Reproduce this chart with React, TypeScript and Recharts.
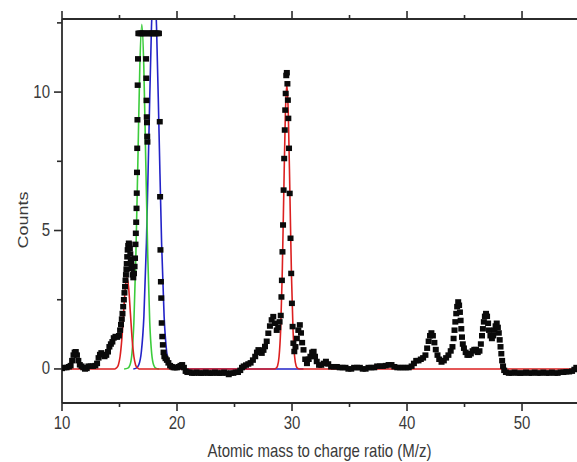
import React from 'react';
import { ComposedChart, Line, Scatter, XAxis, YAxis } from 'recharts';

const xTicks = [10, 15, 20, 25, 30, 35, 40, 45, 50];
const xLabelTicks = [10, 20, 30, 40, 50];
const yTicks = [0, 2.5, 5, 7.5, 10, 12.5];
const yLabelTicks = [0, 5, 10];
const xDomain: [number, number] = [10, 54.78];
const yDomain: [number, number] = [-1.23, 12.64];
const xTitle = 'Atomic mass to charge ratio (M/z)';
const yTitle = 'Counts';

// measured spectrum (black squares)
const measured: [number, number][] = [
  [10.0, 0.02], [10.2, 0.05], [10.4, 0.05], [10.6, 0.08], [10.75, 0.12], [10.88, 0.3], [11.0, 0.5], [11.1, 0.6],
  [11.2, 0.62], [11.3, 0.5], [11.42, 0.3], [11.55, 0.15], [11.7, 0.1], [11.85, 0.05], [12.0, 0.0], [12.15, 0.02],
  [12.3, 0.1], [12.5, 0.1], [12.7, 0.1], [12.9, 0.12], [13.05, 0.2], [13.18, 0.4], [13.3, 0.52], [13.42, 0.58],
  [13.55, 0.52], [13.7, 0.45], [13.85, 0.5], [14.0, 0.62], [14.12, 0.8], [14.25, 0.9], [14.38, 0.98], [14.5, 1.12],
  [14.65, 1.17], [14.8, 1.15], [14.95, 1.2], [15.05, 1.4], [15.13, 1.6], [15.2, 1.8], [15.26, 2.0], [15.32, 2.25],
  [15.38, 2.5], [15.43, 2.75], [15.48, 2.97], [15.52, 3.2], [15.56, 3.4], [15.6, 3.6], [15.63, 3.8], [15.67, 4.05],
  [15.71, 4.3], [15.76, 4.45], [15.81, 4.54], [15.86, 4.5], [15.9, 4.35], [15.94, 4.15], [15.98, 3.96], [16.03, 3.8],
  [16.08, 3.62], [16.14, 3.4], [16.2, 3.3], [16.26, 3.45], [16.31, 3.7], [16.35, 4.0], [16.39, 4.5], [16.42, 4.9],
  [16.45, 5.3], [16.48, 5.8], [16.5, 6.35], [16.52, 7.1], [16.54, 7.97], [16.56, 9.0], [16.58, 10.25], [16.61, 11.2],
  [16.64, 12.12], [16.72, 12.12], [16.8, 12.12], [16.88, 12.12], [16.96, 12.12], [17.04, 12.12], [17.12, 12.12],
  [17.2, 12.12], [17.28, 12.12], [17.31, 11.2], [17.33, 10.5], [17.35, 9.7], [17.37, 9.1], [17.39, 8.9], [17.41, 8.4],
  [17.43, 8.2], [17.47, 12.12], [17.55, 12.12], [17.63, 12.12], [17.71, 12.12], [17.79, 12.12], [17.87, 12.12],
  [17.95, 12.12], [18.03, 12.12], [18.11, 12.12], [18.19, 12.12], [18.27, 12.12], [18.35, 12.12], [18.43, 12.12],
  [18.5, 8.93], [18.53, 6.22], [18.56, 4.3], [18.6, 3.15], [18.63, 2.56], [18.67, 1.66], [18.72, 1.17], [18.77, 0.87],
  [18.83, 0.6], [18.9, 0.45], [19.0, 0.38], [19.12, 0.32], [19.25, 0.22], [19.4, 0.12], [19.55, 0.08], [19.7, 0.05],
  [19.85, 0.05], [20.0, 0.05], [20.15, 0.08], [20.3, 0.12], [20.45, 0.15], [20.6, 0.05], [20.75, -0.08], [20.9, -0.12],
  [21.1, -0.12], [21.3, -0.15], [21.5, -0.15], [21.7, -0.12], [21.9, -0.15], [22.1, -0.15], [22.3, -0.15], [22.5, -0.12],
  [22.7, -0.15], [22.9, -0.15], [23.1, -0.15], [23.3, -0.12], [23.5, -0.15], [23.7, -0.15], [23.9, -0.15], [24.1, -0.12],
  [24.3, -0.15], [24.5, -0.2], [24.7, -0.15], [24.9, -0.15], [25.1, -0.12], [25.3, -0.12], [25.5, -0.05], [25.65, 0.05],
  [25.8, 0.1], [26.0, 0.14], [26.2, 0.18], [26.4, 0.22], [26.6, 0.32], [26.8, 0.45], [26.95, 0.6], [27.08, 0.69],
  [27.22, 0.62], [27.37, 0.57], [27.52, 0.68], [27.65, 0.81], [27.8, 1.0], [27.94, 1.29], [28.08, 1.55], [28.23, 1.77],
  [28.37, 1.89], [28.52, 1.65], [28.67, 1.4], [28.8, 1.5], [28.92, 1.7], [29.02, 1.93], [29.08, 2.6], [29.12, 3.2],
  [29.17, 4.23], [29.22, 5.2], [29.27, 6.46], [29.32, 7.6], [29.37, 8.63], [29.41, 9.35], [29.45, 9.95], [29.5, 10.6],
  [29.55, 10.7], [29.6, 10.3], [29.64, 9.71], [29.68, 9.05], [29.74, 7.97], [29.8, 6.34], [29.87, 4.72], [29.93, 3.45],
  [29.99, 2.37], [30.05, 1.53], [30.12, 0.93], [30.2, 0.63], [30.3, 0.8], [30.42, 1.1], [30.55, 1.4], [30.68, 1.59],
  [30.78, 1.3], [30.88, 0.95], [31.0, 0.69], [31.15, 0.35], [31.3, 0.2], [31.45, 0.35], [31.6, 0.45], [31.75, 0.6],
  [31.88, 0.63], [32.0, 0.45], [32.15, 0.27], [32.35, 0.14], [32.55, 0.14], [32.75, 0.2], [32.95, 0.27], [33.15, 0.18],
  [33.4, 0.08], [33.65, 0.08], [33.9, 0.08], [34.15, 0.05], [34.4, 0.05], [34.65, 0.05], [34.9, 0.0], [35.15, 0.0],
  [35.4, 0.05], [35.65, 0.05], [35.9, 0.05], [36.15, 0.0], [36.4, 0.0], [36.65, 0.05], [36.9, 0.05], [37.15, 0.05],
  [37.4, 0.1], [37.65, 0.1], [37.9, 0.1], [38.15, 0.12], [38.4, 0.15], [38.65, 0.15], [38.9, 0.08], [39.15, 0.05],
  [39.4, 0.05], [39.65, 0.05], [39.9, 0.05], [40.15, 0.05], [40.4, 0.1], [40.6, 0.2], [40.8, 0.3], [41.0, 0.3],
  [41.2, 0.35], [41.4, 0.4], [41.6, 0.5], [41.75, 0.75], [41.88, 1.0], [42.0, 1.2], [42.12, 1.3], [42.25, 1.2],
  [42.38, 0.95], [42.5, 0.7], [42.65, 0.5], [42.8, 0.35], [43.0, 0.25], [43.2, 0.3], [43.4, 0.4], [43.6, 0.5],
  [43.8, 0.65], [43.95, 0.8], [44.05, 1.1], [44.13, 1.4], [44.2, 1.7], [44.28, 2.0], [44.36, 2.25], [44.45, 2.42],
  [44.53, 2.3], [44.6, 2.05], [44.66, 1.75], [44.72, 1.45], [44.78, 1.15], [44.85, 0.9], [44.95, 0.75], [45.1, 0.6],
  [45.25, 0.5], [45.4, 0.5], [45.55, 0.55], [45.7, 0.65], [45.85, 0.7], [46.0, 0.7], [46.15, 0.6], [46.3, 0.65],
  [46.42, 0.9], [46.52, 1.2], [46.6, 1.45], [46.68, 1.7], [46.77, 1.9], [46.87, 2.0], [46.96, 1.9], [47.05, 1.65],
  [47.13, 1.4], [47.25, 1.2], [47.38, 1.1], [47.5, 1.2], [47.6, 1.4], [47.7, 1.55], [47.8, 1.65], [47.9, 1.5],
  [47.98, 1.3], [48.06, 1.05], [48.13, 0.8], [48.2, 0.55], [48.27, 0.3], [48.35, 0.1], [48.45, -0.05], [48.6, -0.12],
  [48.85, -0.15], [49.1, -0.15], [49.35, -0.12], [49.6, -0.15], [49.85, -0.15], [50.1, -0.15], [50.35, -0.12],
  [50.6, -0.15], [50.85, -0.15], [51.1, -0.12], [51.35, -0.15], [51.6, -0.15], [51.85, -0.12], [52.1, -0.15],
  [52.35, -0.15], [52.6, -0.12], [52.85, -0.15], [53.1, -0.15], [53.35, -0.12], [53.6, -0.12], [53.85, -0.1],
  [54.1, -0.1], [54.35, -0.08], [54.55, -0.02], [54.72, 0.05],
];

// fitted peaks
const redFit: [number, number][] = [
  [10, 0], [14.6, 0], [14.75, 0.04], [14.9, 0.145], [15.05, 0.45], [15.2, 1.07], [15.35, 2.0], [15.5, 2.91],
  [15.65, 3.3], [15.8, 2.91], [15.95, 2.0], [16.1, 1.07], [16.25, 0.45], [16.4, 0.145], [16.55, 0.04], [16.7, 0],
  [28.45, 0], [28.6, 0.02], [28.74, 0.11], [28.875, 0.45], [29.01, 1.39], [29.145, 3.35], [29.28, 6.25], [29.415, 9.09],
  [29.55, 10.3], [29.685, 9.09], [29.82, 6.25], [29.955, 3.35], [30.09, 1.39], [30.225, 0.45], [30.36, 0.11],
  [30.5, 0.02], [30.65, 0], [54.78, 0],
];
const greenFit: [number, number][] = [
  [15.4, 0], [15.73, 0.03], [15.91, 0.14], [16.08, 0.55], [16.25, 1.68], [16.42, 4.05], [16.6, 7.56], [16.77, 10.98],
  [16.94, 12.45], [17.11, 10.98], [17.28, 7.56], [17.46, 4.05], [17.63, 1.68], [17.8, 0.55], [17.97, 0.14],
  [18.15, 0.03], [18.45, 0],
];
const blueFit: [number, number][] = [
  [16.2, 0], [16.46, 0.03], [16.68, 0.15], [16.9, 0.62], [17.12, 1.89], [17.34, 4.55], [17.56, 8.5], [17.78, 12.35],
  [18.0, 14], [18.22, 12.35], [18.44, 8.5], [18.66, 4.55], [18.88, 1.89], [19.1, 0.62], [19.32, 0.15], [19.54, 0.03],
  [19.8, 0], [31, 0],
];

const toPts = (arr: [number, number][]) => arr.map(([x, y]) => ({ x, y }));

const FONT = '"Liberation Sans", Arial, Helvetica, sans-serif';
const AX = '#2b2b2b';
const TXT = '#3a3a3a';
const FS = 15;

const BottomTick = (p: any) => {
  const { x, y, payload } = p;
  const major = xLabelTicks.includes(payload.value);
  return (
    <g transform={`translate(${x},${y})`}>
      <line x1={0} y1={0} x2={0} y2={major ? 8 : 4} stroke={AX} strokeWidth={1.6} />
      {major && (
        <text transform="scale(1,1.2)" x={0} y={22} textAnchor="middle" fontSize={FS} fill={TXT} fontFamily={FONT}>
          {payload.value}
        </text>
      )}
    </g>
  );
};

const TopTick = (p: any) => {
  const { x, y, payload } = p;
  const major = xLabelTicks.includes(payload.value);
  return (
    <g transform={`translate(${x},${y})`}>
      <line x1={0} y1={0} x2={0} y2={major ? -8 : -4} stroke={AX} strokeWidth={1.6} />
    </g>
  );
};

const LeftTick = (p: any) => {
  const { x, y, payload } = p;
  const major = yLabelTicks.includes(payload.value);
  return (
    <g transform={`translate(${x},${y})`}>
      <line x1={0} y1={0} x2={major ? -8 : -5} y2={0} stroke={AX} strokeWidth={1.6} />
      {major && (
        <text transform="scale(1,1.2)" x={-12} y={4.5} textAnchor="end" fontSize={FS} fill={TXT} fontFamily={FONT}>
          {payload.value}
        </text>
      )}
    </g>
  );
};

const XTitle = (p: any) => {
  const vb = p.viewBox || { x: 62, y: 403, width: 515, height: 59 };
  const cx = vb.x + vb.width / 2;
  const by = vb.y + 54;
  return (
    <g transform={`translate(${cx},${by}) scale(1,1.2)`}>
      <text x={0} y={0} textAnchor="middle" fontSize={FS} fill={TXT} fontFamily={FONT}>
        {xTitle}
      </text>
    </g>
  );
};

const YTitle = (p: any) => {
  const vb = p.viewBox || { x: 0, y: 19, width: 62, height: 384 };
  const cy = vb.y + 201;
  return (
    <g transform={`translate(28,${cy}) rotate(-90) scale(1.2,1)`}>
      <text x={0} y={0} textAnchor="middle" fontSize={FS} fill={TXT} fontFamily={FONT}>
        {yTitle}
      </text>
    </g>
  );
};

const Square = (p: any) => {
  if (p.cx == null || p.cy == null) return null;
  return <rect x={p.cx - 3} y={p.cy - 2.75} width={6} height={5.5} fill="#0a0a0a" />;
};

export default function App() {
  return (
    <div style={{ position: 'absolute', left: 0, top: 0, width: 577, height: 462, background: '#fff' }}>
      <ComposedChart width={577} height={462} margin={{ top: 0, right: 0, bottom: 0, left: 0 }}>
        <XAxis
          xAxisId="bottom"
          dataKey="x"
          type="number"
          domain={xDomain}
          allowDataOverflow
          ticks={xTicks}
          interval={0}
          height={59}
          tickSize={0}
          tickMargin={0}
          tickLine={false}
          axisLine={{ stroke: AX, strokeWidth: 1.8 }}
          tick={(p: any) => <BottomTick {...p} />}
          label={(p: any) => <XTitle {...p} />}
        />
        <XAxis
          xAxisId="top"
          orientation="top"
          dataKey="x"
          type="number"
          domain={xDomain}
          allowDataOverflow
          ticks={xTicks}
          interval={0}
          height={19}
          tickSize={0}
          tickMargin={0}
          tickLine={false}
          axisLine={{ stroke: AX, strokeWidth: 1.8 }}
          tick={(p: any) => <TopTick {...p} />}
        />
        <YAxis
          dataKey="y"
          type="number"
          domain={yDomain}
          allowDataOverflow
          ticks={yTicks}
          interval={0}
          width={62}
          tickSize={0}
          tickMargin={0}
          tickLine={false}
          axisLine={{ stroke: AX, strokeWidth: 1.8 }}
          tick={(p: any) => <LeftTick {...p} />}
          label={(p: any) => <YTitle {...p} />}
        />
        <Line xAxisId="bottom" data={toPts(blueFit)} dataKey="y" type="monotone" stroke="#2323c8" strokeWidth={1.6} dot={false} activeDot={false} isAnimationActive={false} />
        <Line xAxisId="bottom" data={toPts(greenFit)} dataKey="y" type="monotone" stroke="#3ccc3c" strokeWidth={1.6} dot={false} activeDot={false} isAnimationActive={false} />
        <Line xAxisId="bottom" data={toPts(redFit)} dataKey="y" type="monotone" stroke="#dc2020" strokeWidth={1.6} dot={false} activeDot={false} isAnimationActive={false} />
        <Scatter xAxisId="bottom" data={toPts(measured)} dataKey="y" shape={(p: any) => <Square {...p} />} isAnimationActive={false} />
      </ComposedChart>
    </div>
  );
}
